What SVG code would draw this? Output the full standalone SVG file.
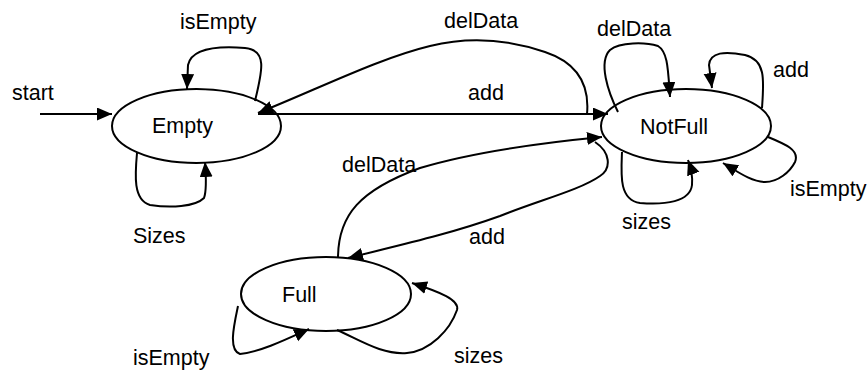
<svg xmlns="http://www.w3.org/2000/svg" width="868" height="370" viewBox="0 0 868 370">
  <style>
    .state { fill: #ffffff; stroke: #000000; stroke-width: 2; }
    .edge { fill: none; stroke: #000000; stroke-width: 2; marker-end: url(#arrow); }
    text { font-family: "Liberation Sans", Arial, sans-serif; font-size: 21.5px; fill: #000000; }
  </style>
  <defs>
    <marker id="arrow" markerUnits="userSpaceOnUse" markerWidth="16" markerHeight="14" refX="15" refY="6.5" orient="auto">
      <path d="M0,0 L15,6.5 L0,13 z" fill="#000000"/>
    </marker>
  </defs>

  <rect width="868" height="370" fill="#ffffff"/>

  <!-- states -->
  <g id="empty">
    <ellipse class="state" cx="196.5" cy="126" rx="84.5" ry="37"/>
    <text x="152" y="133">Empty</text>
  </g>
  <g id="notfull">
    <ellipse class="state" cx="686" cy="126" rx="85" ry="37"/>
    <text x="640" y="134">NotFull</text>
  </g>
  <g id="full">
    <ellipse class="state" cx="326" cy="294" rx="85" ry="37"/>
    <text x="282" y="302">Full</text>
  </g>

  <!-- transitions -->
  <g id="connectors">
    <!-- start -->
    <path class="edge" d="M40,114 L112,114"/>
    <!-- Empty self loops -->
    <path class="edge" d="M255,101 C262,72 268,50 245,48 C220,46 192,47 188,65 L187,89"/>
    <path class="edge" d="M137,153 C135,175 133,200 150,205 C170,208 195,207 204,198 C207,190 206,175 205,162"/>
    <!-- Empty -> NotFull (add) -->
    <path class="edge" d="M258,114 L608,114"/>
    <!-- NotFull -> Empty (delData) -->
    <path class="edge" d="M587,114 C590,82 575,62 545,52 C510,40 470,36 430,46 C380,58 320,88 258,113"/>
    <!-- NotFull self loops -->
    <path class="edge" d="M618,112 C608,92 598,62 610,50 C620,42 645,42 658,46 C668,52 668,70 670,97"/>
    <path class="edge" d="M762,108 C764,80 766,60 745,55 C725,51 710,52 709,65 L712,88"/>
    <path class="edge" d="M768,137 C785,144 800,150 795,162 C790,172 778,182 765,182 C752,182 738,172 723,163"/>
    <path class="edge" d="M622,152 C621,175 619,200 640,203 C665,205 690,202 692,185 C693,175 691,168 688,160"/>
    <!-- Full -> NotFull (delData) -->
    <path class="edge" d="M338,258 C338,215 360,190 420,168 C480,150 550,142 602,137"/>
    <!-- NotFull -> Full (add) -->
    <path class="edge" d="M595,142 C610,152 612,168 600,176 C580,190 540,200 500,216 C450,234 400,245 348,258"/>
    <!-- Full self loops -->
    <path class="edge" d="M337,330 C360,340 382,355 407,353 C430,351 450,330 457,310 C460,300 440,292 412,283"/>
    <path class="edge" d="M238,306 C234,325 228,350 240,354 C260,352 285,340 309,329"/>
  </g>

  <!-- labels -->
  <g id="labels">
    <text x="12" y="100">start</text>
    <text x="180" y="29">isEmpty</text>
    <text x="133" y="243">Sizes</text>
    <text x="444" y="28">delData</text>
    <text x="468" y="100">add</text>
    <text x="597" y="36">delData</text>
    <text x="773" y="77">add</text>
    <text x="790" y="196">isEmpty</text>
    <text x="622" y="229">sizes</text>
    <text x="342" y="172">delData</text>
    <text x="469" y="244">add</text>
    <text x="454" y="363">sizes</text>
    <text x="133" y="365">isEmpty</text>
  </g>
</svg>
